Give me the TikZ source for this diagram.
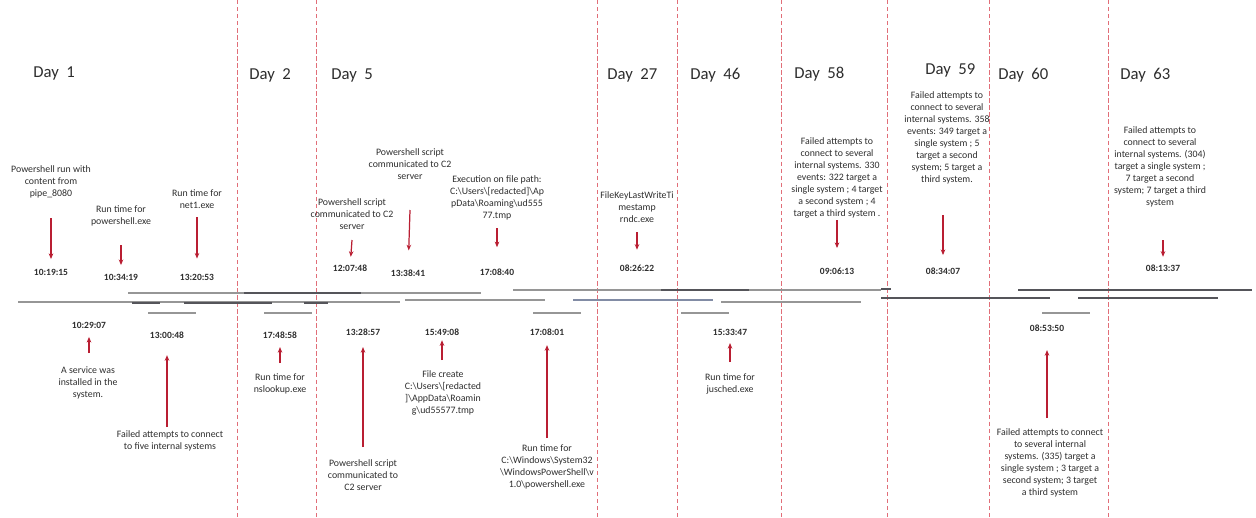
\documentclass[tikz,border=0pt]{standalone}
\usepackage{fontspec}
\setmainfont{Carlito}
\usepackage{tikz}
\usetikzlibrary{arrows.meta}
\definecolor{sepred}{RGB}{225,110,120}
\definecolor{arrred}{RGB}{185,30,50}
\definecolor{tlgray}{RGB}{150,150,150}
\definecolor{tldark}{RGB}{85,85,90}
\definecolor{tlblue}{RGB}{130,140,165}
\definecolor{txtgray}{RGB}{45,45,45}
\newcommand{\bs}{\textbackslash}
\newcommand{\dayfont}{\fontsize{9.5}{11}\selectfont}
\newcommand{\daygap}{\hspace{0.45em}}

\begin{document}
\begin{tikzpicture}[x=0.02cm, y=-0.02cm,
    daysep/.style={sepred, dash pattern=on 2.5pt off 1.5pt, line width=0.5pt},
    daylbl/.style={anchor=west, inner sep=0, text=txtgray, font=\dayfont},
    evtext/.style={align=center, inner sep=0, text=txtgray, font=\fontsize{5.6}{6.8}\selectfont},
    evtime/.style={inner sep=0, text=txtgray, font=\bfseries\fontsize{5.4}{6}\selectfont},
    evarrow/.style={arrred, line width=0.7pt, -{Stealth[length=3.2pt,width=2.6pt]}, shorten >=#1},
    tline/.style={tlgray, line width=1.1pt},
    tdark/.style={tldark, line width=1.1pt}]
                \useasboundingbox (0,0) rectangle (1256,517);

                % Day separators
                \foreach \x in {237,316,597,677,781,887,989,1108}
                    \draw[daysep] (\x,0) -- (\x,517);

                % Day labels
                \node[daylbl] (d1) at (33,73) {Day\daygap 1};
                \node[daylbl] (d2) at (249,75) {Day\daygap 2};
                \node[daylbl] (d5) at (331,75) {Day\daygap 5};
                \node[daylbl] (d27) at (607,75) {Day\daygap 27};
                \node[daylbl] (d46) at (690,75) {Day\daygap 46};
                \node[daylbl] (d58) at (794,74) {Day\daygap 58};
                \node[daylbl] (d59) at (925,70) {Day\daygap 59};
                \node[daylbl] (d60) at (998,75) {Day\daygap 60};
                \node[daylbl] (d63) at (1120,75) {Day\daygap 63};

                % Timeline
                \draw[tline] (128,293) -- (481,293);
                \draw[tdark] (244,293) -- (361,293);
                \draw[tline] (513,290) -- (881,290);
                \draw[tdark] (661,290) -- (749,290);
                \draw[tdark] (881,289) -- (891,289);
                \draw[tdark] (1018,290) -- (1252,290);
                \draw[tline] (18,302) -- (400,302);
                \draw[tdark] (132,303) -- (160,303);
                \draw[tdark] (184,303) -- (272,303);
                \draw[tdark] (304,303) -- (328,303);
                \draw[tline] (405,300) -- (545,300);
                \draw[tline, color=tlblue] (573,300) -- (713,300);
                \draw[tline] (721,302) -- (861,302);
                \draw[tdark] (881,298) -- (1050,298);
                \draw[tdark] (1078,298) -- (1218,298);
                \foreach \x in {148,264,533,681,1042}
                    \draw[tline] (\x,313) -- ++(48,0);

                % Day 1
                \node[evtext] (t1) at (51,182) {Powershell run with\\content from\\pipe\_8080};
                \node[evtime] (h1) at (51,272) {10:19:15};
                \coordinate (a1) at (51,218);
                \draw[evarrow=5.4pt] (a1) -- (h1);

                \node[evtext] (t2) at (121,216) {Run time for\\powershell.exe};
                \node[evtime] (h2) at (121,277) {10:34:19};
                \coordinate (a2) at (121,245);
                \draw[evarrow=4.8pt] (a2) -- (h2);

                \node[evtext] (t3) at (197,199) {Run time for\\net1.exe};
                \node[evtime] (h3) at (197,277) {13:20:53};
                \coordinate (a3) at (197,217);
                \draw[evarrow=8.5pt] (a3) -- (h3);

                \node[evtime] (h11) at (89,325) {10:29:07};
                \node[evtext] (t11) at (88,383) {A service was\\installed in the\\system.};
                \coordinate (a11) at (89,353);
                \draw[evarrow=4.8pt] (a11) -- (h11);

                \node[evtime] (h12) at (167,335) {13:00:48};
                \node[evtext] (t12) at (170,441) {Failed attempts to connect\\to five internal systems};
                \coordinate (a12) at (167,427);
                \draw[evarrow=9.4pt] (a12) -- (h12);

                % Day 2
                \node[evtime] (h13) at (280,335) {17:48:58};
                \node[evtext] (t13) at (280,384) {Run time for\\nslookup.exe};
                \coordinate (a13) at (280,363);
                \draw[evarrow=4.8pt] (a13) -- (h13);

                % Day 5
                \node[evtext] (t4) at (352,214) {Powershell script\\communicated to C2\\server};
                \node[evtime] (h4) at (350,268) {12:07:48};
                \coordinate (a4) at (352,240);
                \draw[evarrow=4.3pt] (a4) -- (h4);

                \node[evtext] (t5) at (410,164) {Powershell script\\communicated to C2\\server};
                \node[evtime] (h5) at (408,273) {13:38:41};
                \coordinate (a5) at (410,210);
                \draw[evarrow=10.8pt] (a5) -- (h5);

                \node[evtext] (t6) at (497,198) {Execution on file path:\\C:\bs Users\bs [redacted]\bs Ap\\pData\bs Roaming\bs ud555\\77.tmp};
                \node[evtime] (h6) at (497,272) {17:08:40};
                \coordinate (a6) at (497,228);
                \draw[evarrow=12pt] (a6) -- (h6);

                \node[evtime] (h14) at (363,332) {13:28:57};
                \node[evtext] (t14) at (363,475) {Powershell script\\communicated to\\C2 server};
                \coordinate (a14) at (363,447);
                \draw[evarrow=6.5pt] (a14) -- (h14);

                \node[evtime] (h15) at (442,332) {15:49:08};
                \node[evtext] (t15) at (443,393) {File create\\C:\bs Users\bs [redacted\\]\bs AppData\bs Roamin\\g\bs ud55577.tmp};
                \coordinate (a15) at (442,360);
                \draw[evarrow=2.6pt] (a15) -- (h15);

                \node[evtime] (h16) at (547,332) {17:08:01};
                \node[evtext] (t16) at (547,467) {Run time for\\C:\bs Windows\bs System32\\\bs WindowsPowerShell\bs v\\1.0\bs powershell.exe};
                \coordinate (a16) at (547,438);
                \draw[evarrow=5.4pt] (a16) -- (h16);

                % Day 27
                \node[evtext] (t7) at (637,207) {FileKeyLastWriteTi\\mestamp\\rndc.exe};
                \node[evtime] (h7) at (637,268) {08:26:22};
                \coordinate (a7) at (637,232);
                \draw[evarrow=8.3pt] (a7) -- (h7);

                % Day 46
                \node[evtime] (h17) at (730,332) {15:33:47};
                \node[evtext] (t17) at (730,384) {Run time for\\jusched.exe};
                \coordinate (a17) at (730,362);
                \draw[evarrow=4.3pt] (a17) -- (h17);

                % Day 58
                \node[evtext] (t8) at (837,178) {Failed attempts to\\connect to several\\internal systems. 330\\events: 322 target a\\single system ; 4 target\\a second system ; 4\\target a third system .};
                \node[evtime] (h8) at (837,271) {09:06:13};
                \coordinate (a8) at (837,220);
                \draw[evarrow=11pt] (a8) -- (h8);

                % Day 59
                \node[evtext] (t9) at (947,138) {Failed attempts to\\connect to several\\internal systems. 358\\events: 349 target a\\single system ; 5\\target a second\\system; 5 target a\\third system.};
                \node[evtime] (h9) at (943,271) {08:34:07};
                \coordinate (a9) at (943,215);
                \draw[evarrow=7pt] (a9) -- (h9);

                % Day 60
                \node[evtime] (h18) at (1047,328) {08:53:50};
                \node[evtext] (t18) at (1050,463) {Failed attempts to connect\\to several internal\\systems. (335) target a\\single system ; 3 target a\\second system; 3 target\\a third system};
                \coordinate (a18) at (1047,418);
                \draw[evarrow=10.5pt] (a18) -- (h18);

                % Day 63
                \node[evtext] (t10) at (1160,167) {Failed attempts to\\connect to several\\internal systems. (304)\\target a single system ;\\7 target a second\\system; 7 target a third\\system};
                \node[evtime] (h10) at (1163,268) {08:13:37};
                \coordinate (a10) at (1163,240);
                \draw[evarrow=4.3pt] (a10) -- (h10);
\end{tikzpicture}
\end{document}
